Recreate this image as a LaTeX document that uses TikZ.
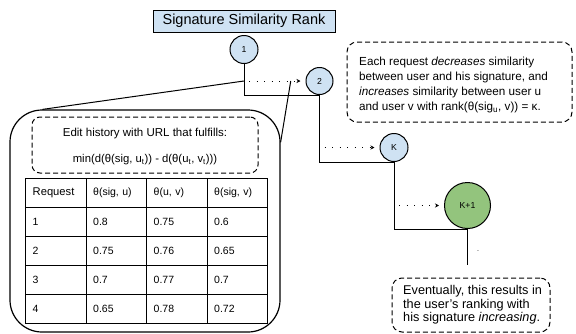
\documentclass[tikz,border=0pt]{standalone}
\usepackage{fontspec}
\setmainfont{Liberation Sans}
\usetikzlibrary{arrows.meta,matrix,calc}
\definecolor{lblue}{HTML}{CFE2F3}
\definecolor{lgreen}{HTML}{93C47D}
\begin{document}
\begin{tikzpicture}[x=1pt,y=-1pt,
  circ/.style={circle,draw,line width=1pt,inner sep=0pt,font=\fontsize{8.7}{10}\selectfont},
  conn/.style={line width=1pt},
  dotarrow/.style={line width=1pt,dash pattern=on 1pt off 6.5pt,-{Stealth[length=4pt,width=4pt]},shorten >=5pt,shorten <=5pt},
  note/.style={draw,line width=1pt,dash pattern=on 5pt off 3pt,rounded corners=10pt,inner sep=0pt},
  txt/.style={inner sep=0pt,align=left,anchor=west}]
\useasboundingbox (0,0) rectangle (576,333);

% title and rank nodes
\node[draw,fill=lblue,line width=1pt,minimum width=182pt,minimum height=22pt,inner sep=0pt,
  font=\fontsize{14.5}{16}\selectfont] (title) at (244,21) {Signature Similarity Rank};
\node[circ,fill=lblue,minimum size=28pt] (n1) at (244,49.5) {1};
\node[circ,fill=lblue,minimum size=27pt] (n2) at (319.5,81) {2};
\node[circ,fill=lblue,minimum size=28pt] (nk) at (394,147.5) {K};
\node[circ,fill=lgreen,minimum size=46pt] (nk1) at (467.5,205.5) {K+1};
\coordinate (tail) at (467.5,265);

% rank ladder
\draw[conn] (n1.south) |- (n2.south);
\draw[conn] (n2.south) |- (nk.south);
\draw[conn] (nk.south) |- (nk1.south);
\draw[conn] (nk1.south) -- (tail);
\node[inner sep=0pt,font=\fontsize{7}{8}\selectfont] (dot) at (478,251) {.};

% dotted arrows
\coordinate (b1) at (n1.south |- n2.west);
\draw[dotarrow] (b1) -- (n2.west);
\draw[dotarrow] (n2.south |- nk.west) -- (nk.west);
\draw[dotarrow] (nk.south |- nk1.west) -- (nk1.west);

% callout box
\node[draw,line width=1.2pt,rounded corners=32pt,minimum width=270pt,minimum height=222pt,inner sep=0pt] (callout) at (145,221) {};
\coordinate (b2) at ($(b1)!0.76!(n2.west)$);
\draw[conn] (b1) -- ($(callout.north west)+(33,0)$);
\draw[conn] (b2) -- ($(callout.north east)+(0,33)$);

% criterion box
\node[note,rounded corners=8pt,minimum width=226pt,minimum height=56pt] (crit) at (145,145) {};
\node[inner sep=0pt,font=\fontsize{11.5}{13}\selectfont] (crit1) at (145,134) {Edit history with URL that fulfills:};
\node[inner sep=0pt,font=\fontsize{11.3}{13}\selectfont] (crit2) at (145,160) {min(d(θ(sig, u\textsubscript{t})) - d(θ(u\textsubscript{t}, v\textsubscript{t})))};

% table
\matrix (tbl) [matrix of nodes, anchor=north west, inner sep=0pt, column sep=-1pt, row sep=-1pt,
  nodes={draw, line width=1pt, minimum height=29pt, text width=46.5pt, inner xsep=7pt, inner ysep=0pt,
    align=left, anchor=center, font=\fontsize{10.5}{12}\selectfont}] at (25,177.5) {
|[font=\fontsize{11.2}{13}\selectfont]| Request & θ(sig, u) & θ(u, v) & θ(sig, v) \\
1 & 0.8 & 0.75 & 0.6 \\
2 & 0.75 & 0.76 & 0.65 \\
3 & 0.7 & 0.77 & 0.7 \\
4 & 0.65 & 0.78 & 0.72 \\
};

% explanatory notes
\node[note,minimum width=225pt,minimum height=80pt] (info) at (459.5,82) {};
\node[txt,font=\fontsize{11.7}{15.3}\selectfont] (infotext) at (359,85) {Each request \textit{decreases} similarity\\between user and his signature, and\\\textit{increases} similarity between user u\\and user v with rank(θ(sig\textsubscript{u}, v)) = κ.};
\node[note,minimum width=158pt,minimum height=54pt] (result) at (471,305) {};
\node[txt,font=\fontsize{12.7}{13.3}\selectfont] (resulttext) at (403,305) {Eventually, this results in\\the user's ranking with\\his signature \textit{increasing}.};
\end{tikzpicture}
\end{document}
